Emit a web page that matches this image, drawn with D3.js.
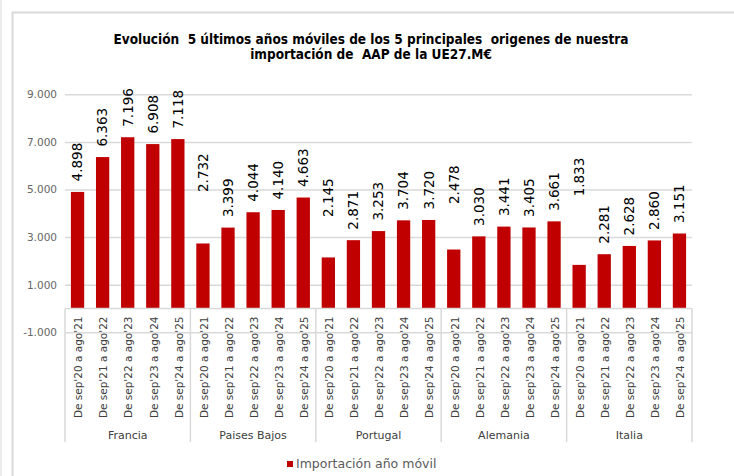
<!DOCTYPE html>
<html>
<head>
<meta charset="utf-8">
<script src="https://cdn.jsdelivr.net/npm/d3@7"></script>
<style>
  body { margin: 0; background: #fff; }
  svg { display: block; }
</style>
</head>
<body>
<svg width="734" height="476"></svg>
<script>
// data
var groups = ["Francia", "Paises Bajos", "Portugal", "Alemania", "Italia"];
var periods = ["De sep'20 a ago'21", "De sep'21 a ago'22", "De sep'22 a ago'23", "De sep'23 a ago'24", "De sep'24 a ago'25"];
var francia = [4898, 6363, 7196, 6908, 7118];
var paisesBajos = [2732, 3399, 4044, 4140, 4663];
var portugal = [2145, 2871, 3253, 3704, 3720];
var alemania = [2478, 3030, 3441, 3405, 3661];
var italia = [1833, 2281, 2628, 2860, 3151];
var yTicks = [-1000, 1000, 3000, 5000, 7000, 9000];
var seriesName = "Importación año móvil";
var titleLines = ["Evolución  5 últimos años móviles de los 5 principales  origenes de nuestra", "importación de  AAP de la UE27.M€"];

var svg = d3.select("svg");
var margins = { top: 94.3, left: 65, right: 42, bottom: 143.7 };
var plotW = 734 - margins.left - margins.right;
var plotBottom = 476 - margins.bottom;

// flatten into rows
var allValues = [francia, paisesBajos, portugal, alemania, italia];
var data = [];
groups.forEach(function (g, gi) {
    allValues[gi].forEach(function (v, pi) {
        data.push({ key: g + "|" + pi, group: g, period: periods[pi], value: v });
    });
});

// spanish style thousands, plain hyphen for negatives
var fmt = function (v) { return d3.format(",")(v).replace(/,/g, ".").replace("\u2212", "-"); };

var xScale = d3.scaleBand().domain(data.map(function (d) { return d.key; }))
    .range([margins.left, margins.left + plotW]).paddingInner(0.47).paddingOuter(0.235);
var gScale = d3.scaleBand().domain(groups).range([margins.left, margins.left + plotW]);
var yScale = d3.scaleLinear().domain([-1000, 9000]).range([plotBottom, margins.top]);

var grid = "#d9d9d9";

// outer frame
svg.append("line").attr("x1", 1).attr("x2", 1).attr("y1", 0).attr("y2", 476)
    .style("stroke", "#ececec").style("stroke-width", 2);
svg.append("path").attr("d", "M12.5,476V12.5H734")
    .style("fill", "none").style("stroke", grid).style("stroke-width", 2);

// title
svg.append("text").attr("x", 372).attr("y", 44)
    .style("font-family", "'DejaVu Sans Condensed', 'DejaVu Sans', sans-serif")
    .style("font-weight", "bold").style("font-size", "13.5px").style("fill", "#000")
    .selectAll("tspan").data(titleLines).enter().append("tspan")
    .attr("x", 371).attr("dy", function (d, i) { return i ? 15 : 0; })
    .attr("text-anchor", "middle").style("white-space", "pre")
    .text(function (d) { return d; });

// gridlines + y labels
var yAxis = d3.axisLeft(yScale).tickValues(yTicks).tickSize(-plotW).tickPadding(8)
    .tickFormat(fmt);
var gy = svg.append("g").attr("transform", "translate(" + margins.left + ",0)").call(yAxis);
gy.select(".domain").remove();
gy.selectAll(".tick line").style("stroke", grid).style("stroke-width", 1.5);
gy.selectAll(".tick text").style("font-family", "'DejaVu Sans', Verdana, sans-serif")
    .style("font-size", "10.5px").style("fill", "#666");

// bars
var y0 = yScale(0);
svg.append("g").selectAll("rect").data(data).enter().append("rect")
    .attr("x", function (d) { return xScale(d.key); })
    .attr("width", xScale.bandwidth())
    .attr("y", function (d) { return yScale(d.value); })
    .attr("height", function (d) { return y0 - yScale(d.value); })
    .style("fill", "#c00000");

// value labels (first bar of some groups was moved up by hand in the original)
var extraLift = { "Paises Bajos|0": 41, "Portugal|0": 30, "Alemania|0": 35, "Italia|0": 58 };
svg.append("g").selectAll("text").data(data).enter().append("text")
    .attr("transform", function (d) {
        var cx = xScale(d.key) + xScale.bandwidth() / 2;
        var cy = yScale(d.value) - 10.5 - (extraLift[d.key] || 0);
        return "translate(" + cx + "," + cy + ") rotate(-90)";
    })
    .attr("dy", "0.36em")
    .style("font-family", "'DejaVu Sans', Verdana, sans-serif")
    .style("font-size", "13.5px").style("fill", "#000")
    .text(function (d) { return fmt(d.value); });

// category axis box
var boxBottom = 442;
var box = svg.append("g").style("stroke", grid).style("stroke-width", 1.5).style("fill", "none");
box.append("line").attr("x1", margins.left).attr("x2", margins.left + plotW)
    .attr("y1", y0).attr("y2", y0);
var edges = groups.map(function (g) { return gScale(g); }).concat([margins.left + plotW]);
box.selectAll("line.edge").data(edges).enter().append("line").attr("class", "edge")
    .attr("x1", function (d) { return d; }).attr("x2", function (d) { return d; })
    .attr("y1", y0).attr("y2", boxBottom);

// period labels
svg.append("g").selectAll("text").data(data).enter().append("text")
    .attr("transform", function (d) {
        var cx = xScale(d.key) + xScale.bandwidth() / 2 + 1;
        return "translate(" + cx + ",316.5) rotate(-90)";
    })
    .attr("dy", "0.36em").attr("text-anchor", "end")
    .style("font-family", "'DejaVu Sans', Verdana, sans-serif")
    .style("font-size", "10.5px").style("fill", "#404040")
    .text(function (d) { return d.period; });

// group labels
svg.append("g").selectAll("text").data(groups).enter().append("text")
    .attr("x", function (d) { return gScale(d) + gScale.bandwidth() / 2; })
    .attr("y", 439).attr("text-anchor", "middle")
    .style("font-family", "'DejaVu Sans', Verdana, sans-serif")
    .style("font-size", "11px").style("fill", "#404040")
    .text(function (d) { return d; });

// legend
svg.append("rect").attr("x", 287).attr("y", 461).attr("width", 6).attr("height", 6)
    .style("fill", "#c00000");
svg.append("text").attr("x", 296).attr("y", 468)
    .style("font-family", "'DejaVu Sans', Verdana, sans-serif")
    .style("font-size", "12.5px").style("fill", "#595959")
    .text(seriesName);
</script>
</body>
</html>
